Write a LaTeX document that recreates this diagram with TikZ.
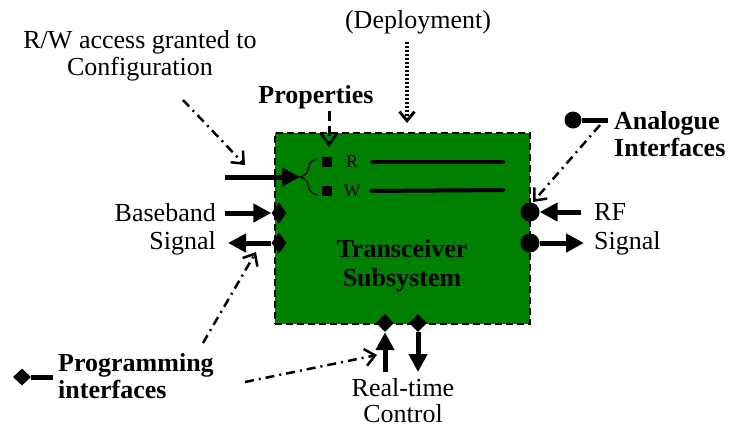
\documentclass[tikz,border=0pt]{standalone}
\usepackage{fontspec}
\setmainfont{LiberationSerif}[Extension=.ttf,UprightFont=*-Regular,BoldFont=*-Bold,
  ItalicFont=*-Italic,BoldItalicFont=*-BoldItalic]
\usetikzlibrary{arrows.meta,shapes.geometric,decorations.pathreplacing}
\definecolor{trxgreen}{RGB}{0,128,0}

\begin{document}
\begin{tikzpicture}[x=1pt,y=-1pt,
  every node/.style={font=\fontsize{26}{27}\selectfont,inner sep=0pt},
  port/.style={diamond,fill=black,minimum width=15pt,minimum height=21pt},
  dport/.style={diamond,fill=black,minimum width=18pt,minimum height=18pt},
  aport/.style={circle,fill=black,minimum size=19pt},
  prop/.style={rectangle,fill=black,minimum size=10pt},
  sig/.style={line width=5pt,-{Triangle[length=18pt,width=18pt]}},
  bar/.style={line width=5pt},
  hint/.style={line width=2.5pt,dash pattern=on 9pt off 5pt on 2pt off 5pt,
    -{Straight Barb[length=10pt,width=17pt,line width=2.5pt]}}]
  \useasboundingbox (0,0) rectangle (731,429);

  % the subsystem
  \node[draw,fill=trxgreen,line width=2.5pt,dash pattern=on 7pt off 4pt,
    minimum width=255pt,minimum height=191pt] (trx) at (402.5,228.5) {};
  \node[font=\bfseries\fontsize{26}{29}\selectfont,align=center] (trxtxt) at (402,266)
    {Transceiver\\Subsystem};

  % properties
  \node[prop] (pr) at (327,162) {};
  \node[prop] (pw) at (327,191) {};
  \node[font=\fontsize{18}{20}\selectfont] (rtxt) at (352,162) {R};
  \node[font=\fontsize{18}{20}\selectfont] (wtxt) at (352,191) {W};
  \coordinate (rend) at (503,162);
  \coordinate (wend) at (503,190);
  \draw[line width=4pt,line cap=round] (rtxt.east) ++(14pt,0) -- (rend);
  \draw[line width=4pt,line cap=round] (wtxt.east) ++(11pt,0) -- (wend);
  \coordinate (brtop) at (317,159);
  \coordinate (brbot) at (317,195);
  \draw[line width=1.2pt,decorate,decoration={brace,amplitude=17pt}] (brbot) -- (brtop);
  \coordinate (brtip) at (300,177);
  \coordinate (cfgin) at (225,177);
  \draw[sig] (cfgin) -- (brtip);

  % baseband ports
  \node[port] (bbi) at (279,213) {};
  \node[port] (bbo) at (279,243) {};
  \coordinate (bbistart) at (225,213);
  \coordinate (bboend) at (228,243);
  \draw[sig] (bbistart) -- (bbi.west);
  \draw[sig] (bbo.west) -- (bboend);
  \node[anchor=east] (bbtxt) at (216,213) {Baseband};
  \node[anchor=east] (bbsig) at (216,243) {Signal};

  % rf ports
  \node[aport] (rfi) at (530,212) {};
  \node[aport] (rfo) at (530,243) {};
  \coordinate (rfistart) at (581,212);
  \coordinate (rfoend) at (584,243);
  \draw[sig] (rfistart) -- (rfi.east);
  \draw[sig] (rfo.east) -- (rfoend);
  \node[anchor=west] (rftxt) at (594,212) {RF};
  \node[anchor=west] (rfsig) at (594,243) {Signal};

  % real-time control
  \node[dport] (rti) at (385,323) {};
  \node[dport] (rto) at (418,323) {};
  \coordinate (rtistart) at (385,372);
  \coordinate (rtoend) at (418,372);
  \draw[sig] (rtistart) -- (rti.south);
  \draw[sig] (rto.south) -- (rtoend);
  \node[align=center,font=\fontsize{26}{26}\selectfont] (rttxt) at (403,401) {Real-time\\Control};

  % labels and hints
  \node[align=center] (cfgtxt) at (140,56) {R/W access granted to\\Configuration};
  \coordinate (cfgfrom) at (183,100);
  \coordinate (cfgto) at (245,165);
  \draw[hint] (cfgfrom) -- (cfgto);

  \node (deptxt) at (418,22) {(Deployment)};
  \coordinate (depfrom) at (407,42);
  \coordinate (depto) at (407,123);
  \draw[line width=4pt,dash pattern=on 2pt off 2pt,
    -{Straight Barb[length=9pt,width=15pt,line width=3pt]}] (depfrom) -- (depto);

  \node[font=\bfseries\fontsize{26}{27}\selectfont] (proptxt) at (316,97) {Properties};
  \coordinate (propfrom) at (329,111);
  \coordinate (propto) at (329,147);
  \draw[line width=3pt,dash pattern=on 10pt off 5pt,
    -{Straight Barb[length=12pt,width=17pt,line width=2.5pt]}] (propfrom) -- (propto);

  \node[aport,minimum size=17pt] (anaicon) at (573,120) {};
  \coordinate (anabar) at (608,120);
  \draw[bar] (anaicon) -- (anabar);
  \node[anchor=west,align=left,font=\bfseries\fontsize{26}{27}\selectfont] (anatxt) at (614,134)
    {Analogue\\Interfaces};
  \coordinate (anafrom) at (600,125);
  \coordinate (anato) at (533,202);
  \draw[hint] (anafrom) -- (anato);

  \node[dport,minimum width=18pt,minimum height=17pt] (pgicon) at (22,377) {};
  \coordinate (pgbar) at (53,377);
  \draw[bar] (pgicon) -- (pgbar);
  \node[anchor=west,align=left,font=\bfseries\fontsize{26}{27}\selectfont] (pgtxt) at (58,376)
    {Programming\\interfaces};
  \coordinate (pgfromA) at (203,343);
  \coordinate (pgtoA) at (256,252);
  \coordinate (pgfromB) at (245,382);
  \coordinate (pgtoB) at (377,355);
  \draw[hint] (pgfromA) -- (pgtoA);
  \draw[hint] (pgfromB) -- (pgtoB);
\end{tikzpicture}
\end{document}
